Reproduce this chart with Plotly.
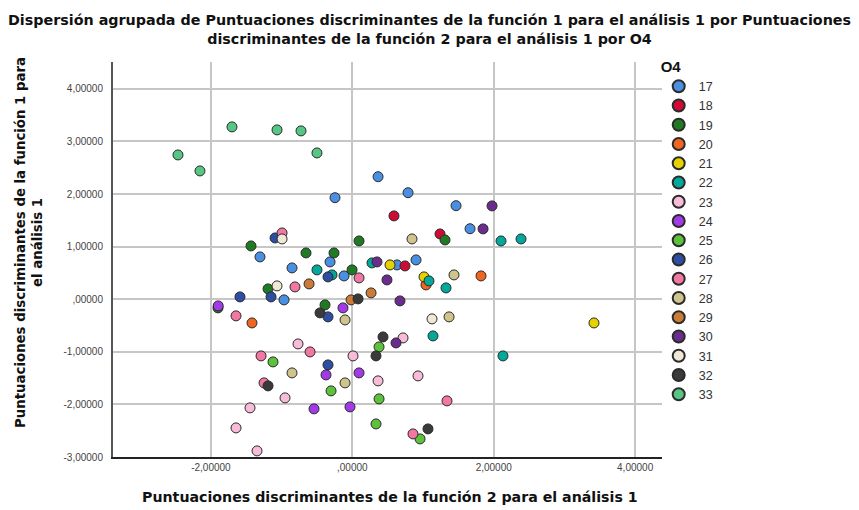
import plotly.graph_objects as go

# ---- data ----
groups = ["17", "18", "19", "20", "21", "22", "23", "24", "25", "26",
          "27", "28", "29", "30", "31", "32", "33"]

x_17 = [0.364, -0.245, 0.788, 1.467, 1.665, -1.306, -0.853, -0.315, -0.117, -0.966, 0.632, 0.901]
y_17 = [2.329, 1.930, 2.025, 1.778, 1.340, 0.804, 0.595, 0.709, 0.443, -0.013, 0.652, 0.747]
x_18 = [0.589, 1.240, 0.745]
y_18 = [1.584, 1.241, 0.633]
x_19 = [-1.433, 0.095, -0.655, -0.259, 1.311, -0.004, -1.192, -1.900, -0.386]
y_19 = [1.013, 1.108, 0.880, 0.880, 1.127, 0.557, 0.196, -0.165, -0.108]
x_20 = [-1.419, 1.042, 1.820]
y_20 = [-0.451, 0.272, 0.443]
x_21 = [0.533, 1.014, 3.418]
y_21 = [0.652, 0.424, -0.451]
x_22 = [2.103, 2.386, -0.500, -0.287, 0.278, 1.084, 1.325, 1.141, 2.131]
y_22 = [1.108, 1.146, 0.557, 0.462, 0.690, 0.348, 0.215, -0.698, -1.078]
x_23 = [0.010, -0.768, 0.364, 0.717, 0.929, -0.952, -1.447, -1.645, -1.348]
y_23 = [-1.078, -0.850, -1.553, -0.736, -1.458, -1.876, -2.066, -2.447, -2.884]
x_24 = [-1.897, -0.132, -0.372, 0.095, -0.542, -0.033]
y_24 = [-0.127, -0.165, -1.439, -1.401, -2.085, -2.047]
x_25 = [-1.122, 0.378, -0.301, 0.378, 0.335, 0.958]
y_25 = [-1.192, -0.907, -1.743, -1.895, -2.371, -2.656]
x_26 = [-1.093, -0.344, -1.589, -1.150, -0.344, -0.344]
y_26 = [1.165, 0.424, 0.044, 0.044, -0.336, -1.249]
x_27 = [-0.994, -0.811, 0.095, -1.645, -0.598, -1.291, -1.249, 1.339, 0.858]
y_27 = [1.260, 0.234, 0.405, -0.317, -1.002, -1.078, -1.591, -1.933, -2.561]
x_28 = [0.844, 1.438, 1.368, -0.103, -0.853, -0.103]
y_28 = [1.146, 0.462, -0.336, -0.394, -1.401, -1.591]
x_29 = [-0.612, 0.265, -0.018]
y_29 = [0.291, 0.120, -0.013]
x_30 = [1.976, 1.849, 0.349, 0.490, 0.674, 0.618]
y_30 = [1.774, 1.337, 0.709, 0.367, -0.032, -0.831]
x_31 = [-0.994, -1.065, 1.127]
y_31 = [1.146, 0.253, -0.374]
x_32 = [0.081, -0.457, 0.434, 0.335, -1.192, 1.070]
y_32 = [0.006, -0.260, -0.717, -1.078, -1.648, -2.466]
x_33 = [-2.466, -2.155, -1.702, -1.065, -0.726, -0.500]
y_33 = [2.743, 2.439, 3.276, 3.219, 3.200, 2.781]

group_x = [x_17, x_18, x_19, x_20, x_21, x_22, x_23, x_24, x_25, x_26,
           x_27, x_28, x_29, x_30, x_31, x_32, x_33]
group_y = [y_17, y_18, y_19, y_20, y_21, y_22, y_23, y_24, y_25, y_26,
           y_27, y_28, y_29, y_30, y_31, y_32, y_33]

colors = ["#4A8FE2", "#D10A35", "#1F7A24", "#F0651F", "#E6D200", "#00A99A",
          "#F8BCD9", "#A23AE8", "#5BC23A", "#2E4EA3", "#F277A3", "#CFC58C",
          "#CB7B37", "#6B2C8F", "#EEE8D4", "#3A3A3A", "#55C684"]

x_tickvals = [-2, 0, 2, 4]
x_ticktext = ["-2,00000", ",00000", "2,00000", "4,00000"]
y_tickvals = [-3, -2, -1, 0, 1, 2, 3, 4]
y_ticktext = ["-3,00000", "-2,00000", "-1,00000", ",00000", "1,00000",
              "2,00000", "3,00000", "4,00000"]

title_text = ("Dispersión agrupada de Puntuaciones discriminantes de la función 1 para el análisis 1 por Puntuaciones"
              "<br>discriminantes de la función 2 para el análisis 1 por O4")
x_title = "Puntuaciones discriminantes de la función 2 para el análisis 1"
y_title = "Puntuaciones discriminantes de la función 1 para<br>el análisis 1"
legend_title = "O4"

FONT = "Liberation Sans, Arial, sans-serif"
BOLD = "DejaVu Sans, Liberation Sans, sans-serif"

fig = go.Figure()
for name, xs, ys, col in zip(groups, group_x, group_y, colors):
    fig.add_trace(go.Scatter(
        x=xs, y=ys, mode="markers", name=name,
        marker=dict(size=10, color=col, line=dict(color="#2b2b2b", width=1)),
    ))

# the page adds an 8px body margin, so the figure is sized to fit the 859x510 window
fig.update_layout(
    width=851, height=502,
    paper_bgcolor="white", plot_bgcolor="white",
    margin=dict(l=105, r=197, t=54, b=53),
    font=dict(family=FONT, color="#222"),
    showlegend=True,
    legend=dict(title=dict(text="<b>" + legend_title + "</b>",
                           font=dict(family=FONT, size=15, color="#111")),
                x=0.994, xanchor="left", y=1.025, yanchor="top",
                font=dict(family=FONT, size=12.5, color="#333"), itemsizing="constant",
                tracegroupgap=0, bgcolor="rgba(0,0,0,0)", maxheight=480),
    xaxis=dict(range=[-3.385, 4.38], tickvals=x_tickvals, ticktext=x_ticktext,
               showgrid=True, gridcolor="#C6C6C6", gridwidth=1.5,
               zeroline=False, showline=True, linecolor="#222", linewidth=2,
               ticks="", tickfont=dict(size=10, color="#444")),
    yaxis=dict(range=[-3.0, 4.51], tickvals=y_tickvals, ticktext=y_ticktext,
               showgrid=True, gridcolor="#C6C6C6", gridwidth=1.5,
               zeroline=False, showline=True, linecolor="#555", linewidth=2,
               ticks="", tickfont=dict(size=10, color="#444"), ticklabelstandoff=6),
    annotations=[
        dict(text="<b>" + title_text + "</b>", xref="paper", yref="paper",
             x=0.577, y=1.132, xanchor="center", yanchor="top", showarrow=False,
             font=dict(family=BOLD, size=14.3, color="#111")),
        dict(text="<b>" + x_title + "</b>", xref="paper", yref="paper",
             x=0.504, y=-0.101, xanchor="center", yanchor="middle", showarrow=False,
             font=dict(family=BOLD, size=14.2, color="#111")),
        dict(text="<b>" + y_title + "</b>", textangle=-90,
             xref="paper", yref="paper", x=-0.153, y=0.542,
             xanchor="center", yanchor="middle", showarrow=False,
             font=dict(family=BOLD, size=13.3, color="#111")),
    ],
)

fig.write_html("out.html")
